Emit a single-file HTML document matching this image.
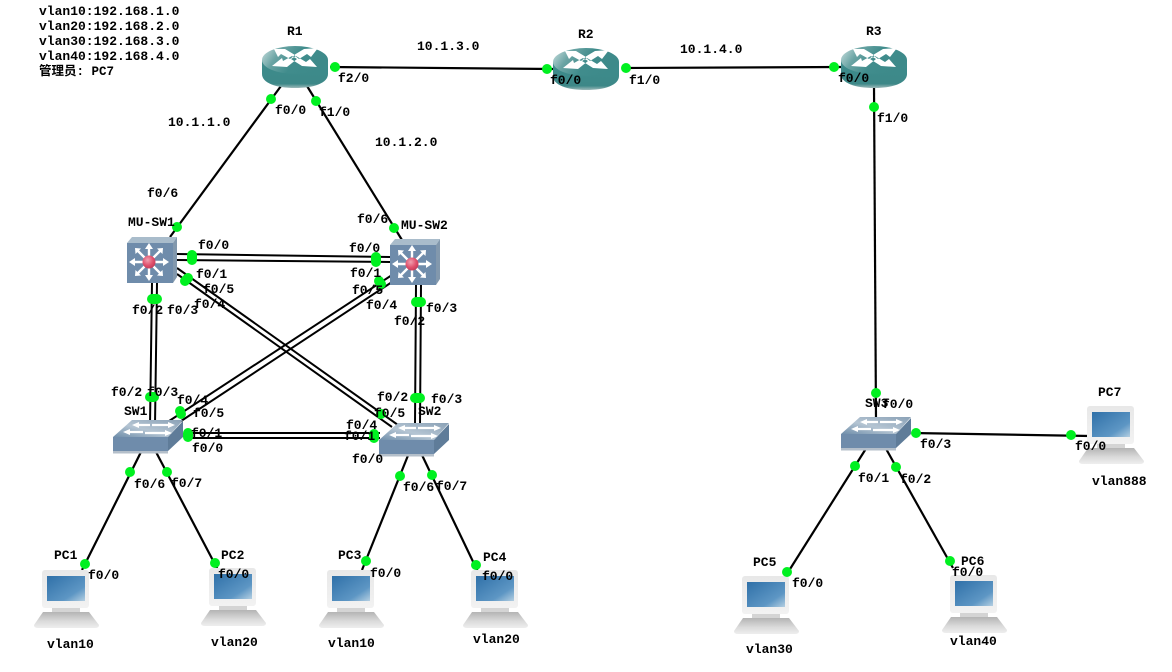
<!DOCTYPE html>
<html>
<head>
<meta charset="utf-8">
<style>
html,body{margin:0;padding:0;background:#fff;width:1172px;height:672px;overflow:hidden}
svg{display:block}
text{font-family:"Liberation Mono","WenQuanYi Zen Hei","Noto Sans CJK SC",monospace;font-size:13px;font-weight:bold;fill:#000}
.l{stroke:#000;stroke-width:2.200;fill:none}
.d{stroke:#000;stroke-width:2;fill:none}
.g{fill:#00f020}
</style>
</head>
<body>
<svg width="1172" height="672" viewBox="0 0 1172 672" xmlns="http://www.w3.org/2000/svg">
<defs>
<linearGradient id="rt" x1="0" x2="1" y1="0" y2="0.3"><stop offset="0" stop-color="#cfe2e2"/><stop offset=".3" stop-color="#6aa4a4"/><stop offset=".6" stop-color="#408c8c"/><stop offset="1" stop-color="#3d8a8a"/></linearGradient>
<linearGradient id="rb" x1="0" x2="0" y1="0" y2="1"><stop offset="0" stop-color="#3d8c8c"/><stop offset=".85" stop-color="#3d8888"/><stop offset="1" stop-color="#9db9b9"/></linearGradient>
<linearGradient id="st" x1="0" x2="1" y1="1" y2="0"><stop offset="0" stop-color="#6f8eaa"/><stop offset=".45" stop-color="#b5c5d3"/><stop offset="1" stop-color="#8aa1b6"/></linearGradient>
<linearGradient id="scr" x1="0" x2="1" y1="0" y2="1"><stop offset="0" stop-color="#2f70a8"/><stop offset=".7" stop-color="#5d96c4"/><stop offset="1" stop-color="#b4cfe2"/></linearGradient>
<linearGradient id="kb" x1="0" x2="0" y1="0" y2="1"><stop offset="0" stop-color="#b4b4b4"/><stop offset=".6" stop-color="#dcdcdc"/><stop offset="1" stop-color="#eeeeee"/></linearGradient>
<linearGradient id="mon" x1="0" x2="0" y1="0" y2="1"><stop offset="0" stop-color="#e8e8e8"/><stop offset="1" stop-color="#f2f2f2"/></linearGradient>
<radialGradient id="red" cx=".4" cy=".35" r=".7"><stop offset="0" stop-color="#f0a0b0"/><stop offset=".6" stop-color="#e0506c"/><stop offset="1" stop-color="#c03a58"/></radialGradient>

<g id="router">
<path d="M0 15 V29 C0 38 14 43 33 43 C52 43 66 38 66 29 V15 Z" fill="url(#rb)"/>
<ellipse cx="33" cy="15" rx="33" ry="14" fill="url(#rt)"/>
<path d="M12 4l11 0 10 6-5 4-9-5-3 3zM56 3l-14 1-10 6 5 4 8-5 4 3zM10 21l15 1 10-8-5-3-9 5-1-3zM55 22l-15-1-11-7 5-3 10 6 4-3z" fill="#fff"/>
</g>

<g id="mls">
<path d="M0 6 L5 0 H50 L46 6Z" fill="#a9bccb"/>
<path d="M46 6 L50 0 V40 L46 46Z" fill="#8298ad"/>
<rect x="0" y="6" width="46" height="40" fill="#6f8cab"/>
<g stroke="#fff" stroke-width="2.400" fill="none">
<path d="M6 25H40M22 10V40M11 14L33 36M33 14L11 36"/>
</g>
<path d="M22 6l-4 6h8zM22 44l-4-6h8zM2 25l6-4v8zM42 25l-6-4v8z" fill="#fff"/>
<path d="M8 11l6 .500-5.500 5.500zM36 11l-6 .500 5.500 5.500zM8 39l6-.500-5.500-5.500zM36 39l-6-.500 5.500-5.500z" fill="#fff"/>
<circle cx="22" cy="25" r="6.500" fill="url(#red)"/>
</g>

<g id="sw">
<path d="M0 17 L19 0 H70 L55 17Z" fill="url(#st)"/>
<path d="M55 17 L70 1 V17 L55 31Z" fill="#5f7c99"/>
<rect x="0" y="17" width="55" height="14" fill="#6f8cab"/>
<rect x="0" y="31" width="55" height="2.500" fill="#b4bfca"/>
<g stroke="#fff" stroke-width="2.200" fill="none">
<path d="M39 5H57M23 5H37M14 12H30M32 13H54"/>
</g>
<path d="M62 5l-7-3v6zM19 5l7-3v6zM10 12l7-3v6zM59 13l-7-3v6z" fill="#fff"/>
</g>

<g id="pc">
<rect x="8" y="0" width="47" height="38" rx="3" fill="url(#mon)"/>
<rect x="13" y="6" width="38" height="25" fill="url(#scr)"/>
<rect x="18" y="38" width="28" height="4" fill="#d4d4d4"/>
<path d="M9 42 H55 L65 55 Q65 58 61 58 H4 Q0 58 0 55Z" fill="url(#kb)"/>
</g>
</defs>

<!-- single links -->
<path class="l" d="M330 67L553 69"/>
<path class="l" d="M625 68L841 67"/>
<path class="l" d="M281 86L170 237"/>
<path class="l" d="M307 86L402 240"/>
<path class="l" d="M874 86L876 420"/>
<path class="l" d="M141 452L82 570"/>
<path class="l" d="M156 452L218 570"/>
<path class="l" d="M409 453L362 570"/>
<path class="l" d="M421 453L478 572"/>
<path class="l" d="M867 447L785 577"/>
<path class="l" d="M885 447L953 568"/>
<path class="l" d="M912 433L1090 436"/>

<!-- double links -->
<path class="d" d="M177 254L390 257M177 260L390 262"/>
<path class="d" d="M177 268L398 425M177 274L392 427"/>
<path class="d" d="M392 275L163 425M392 282L172 427"/>
<path class="d" d="M152 283L150 425M157 283L155 425"/>
<path class="d" d="M416 285L415 425M421 285L420 425"/>
<path class="d" d="M184 433L380 433M184 438L380 438"/>

<!-- devices -->
<use href="#router" x="262" y="45"/>
<use href="#router" x="553" y="47"/>
<use href="#router" x="841" y="45"/>
<use href="#mls" x="127" y="237"/>
<use href="#mls" x="390" y="239"/>
<use href="#sw" x="113" y="420"/>
<use href="#sw" x="379" y="423"/>
<use href="#sw" x="841" y="417"/>
<use href="#pc" x="34" y="570"/>
<use href="#pc" x="201" y="568"/>
<use href="#pc" x="319" y="570"/>
<use href="#pc" x="463" y="570"/>
<use href="#pc" x="734" y="576"/>
<use href="#pc" x="942" y="575"/>
<use href="#pc" x="1079" y="406"/>

<!-- link endpoint dots -->
<g class="g">
<circle cx="335" cy="67" r="5"/><circle cx="547" cy="69" r="5"/>
<circle cx="626" cy="68" r="5"/><circle cx="834" cy="67" r="5"/>
<circle cx="271" cy="99" r="5"/><circle cx="177" cy="227" r="5"/>
<circle cx="316" cy="101" r="5"/><circle cx="394" cy="228" r="5"/>
<circle cx="874" cy="107" r="5"/><circle cx="876" cy="393" r="5"/>
<circle cx="130" cy="472" r="5"/><circle cx="85" cy="564" r="5"/>
<circle cx="167" cy="472" r="5"/><circle cx="215" cy="563" r="5"/>
<circle cx="400" cy="476" r="5"/><circle cx="366" cy="561" r="5"/>
<circle cx="432" cy="475" r="5"/><circle cx="476" cy="565" r="5"/>
<circle cx="855" cy="466" r="5"/><circle cx="787" cy="572" r="5"/>
<circle cx="896" cy="467" r="5"/><circle cx="950" cy="561" r="5"/>
<circle cx="916" cy="433" r="5"/><circle cx="1071" cy="435" r="5"/>
<rect x="187" y="250" width="10" height="15" rx="5"/>
<rect x="371" y="252" width="10" height="15" rx="5"/>
<circle cx="187" cy="279" r="5"/><circle cx="185" cy="281" r="5"/><circle cx="188" cy="278" r="5"/>
<circle cx="379" cy="281" r="5"/><circle cx="381" cy="284" r="5"/>
<rect x="147" y="294" width="15" height="10" rx="5"/>
<rect x="411" y="297" width="15" height="10" rx="5"/>
<rect x="145" y="392" width="14" height="10" rx="5"/>
<rect x="410" y="393" width="15" height="10" rx="5"/>
<circle cx="180" cy="411" r="5"/><circle cx="181" cy="414" r="5"/>
<circle cx="381" cy="414" r="5"/>
<rect x="183" y="428" width="10" height="14" rx="5"/>
<rect x="369" y="429" width="10" height="14" rx="5"/>
</g>

<!-- notes -->
<text x="39" y="15">vlan10:192.168.1.0</text>
<text x="39" y="30">vlan20:192.168.2.0</text>
<text x="39" y="45">vlan30:192.168.3.0</text>
<text x="39" y="60">vlan40:192.168.4.0</text>
<text x="39" y="75" style="font-size:12.500px">管理员: PC7</text>

<!-- device names -->
<text x="287" y="35">R1</text><text x="578" y="38">R2</text><text x="866" y="35">R3</text>
<text x="128" y="226">MU-SW1</text><text x="401" y="229">MU-SW2</text>
<text x="124" y="415">SW1</text><text x="418" y="415">SW2</text><text x="865" y="407">SW3</text>
<text x="54" y="559">PC1</text><text x="221" y="559">PC2</text><text x="338" y="559">PC3</text><text x="483" y="561">PC4</text>
<text x="753" y="566">PC5</text><text x="961" y="565">PC6</text><text x="1098" y="396">PC7</text>

<!-- subnets -->
<text x="417" y="50">10.1.3.0</text><text x="680" y="53">10.1.4.0</text>
<text x="168" y="126">10.1.1.0</text><text x="375" y="146">10.1.2.0</text>

<!-- interfaces -->
<text x="338" y="82">f2/0</text><text x="275" y="114">f0/0</text><text x="319" y="116">f1/0</text>
<text x="550" y="84">f0/0</text><text x="629" y="84">f1/0</text>
<text x="838" y="82">f0/0</text><text x="877" y="122">f1/0</text>
<text x="147" y="197">f0/6</text><text x="357" y="223">f0/6</text>
<text x="198" y="249">f0/0</text><text x="349" y="252">f0/0</text>
<text x="196" y="278">f0/1</text><text x="350" y="277">f0/1</text>
<text x="203" y="293">f0/5</text><text x="352" y="294">f0/5</text>
<text x="194" y="308">f0/4</text><text x="366" y="309">f0/4</text>
<text x="132" y="314">f0/2</text><text x="167" y="314">f0/3</text>
<text x="426" y="312">f0/3</text><text x="394" y="325">f0/2</text>
<text x="111" y="396">f0/2</text><text x="147" y="396">f0/3</text>
<text x="177" y="404">f0/4</text><text x="193" y="417">f0/5</text>
<text x="191" y="437">f0/1</text><text x="192" y="452">f0/0</text>
<text x="377" y="401">f0/2</text><text x="431" y="403">f0/3</text>
<text x="374" y="417">f0/5</text><text x="346" y="429">f0/4</text>
<text x="344" y="440">f0/1</text><text x="352" y="463">f0/0</text>
<text x="134" y="488">f0/6</text><text x="171" y="487">f0/7</text>
<text x="403" y="491">f0/6</text><text x="436" y="490">f0/7</text>
<text x="88" y="579">f0/0</text><text x="218" y="578">f0/0</text>
<text x="370" y="577">f0/0</text><text x="482" y="580">f0/0</text>
<text x="792" y="587">f0/0</text><text x="952" y="576">f0/0</text>
<text x="882" y="408">f0/0</text><text x="920" y="448">f0/3</text>
<text x="858" y="482">f0/1</text><text x="900" y="483">f0/2</text>
<text x="1075" y="450">f0/0</text>

<!-- vlans -->
<text x="47" y="648">vlan10</text><text x="211" y="646">vlan20</text>
<text x="328" y="647">vlan10</text><text x="473" y="643">vlan20</text>
<text x="746" y="653">vlan30</text><text x="950" y="645">vlan40</text>
<text x="1092" y="485">vlan888</text>
</svg>
</body>
</html>
